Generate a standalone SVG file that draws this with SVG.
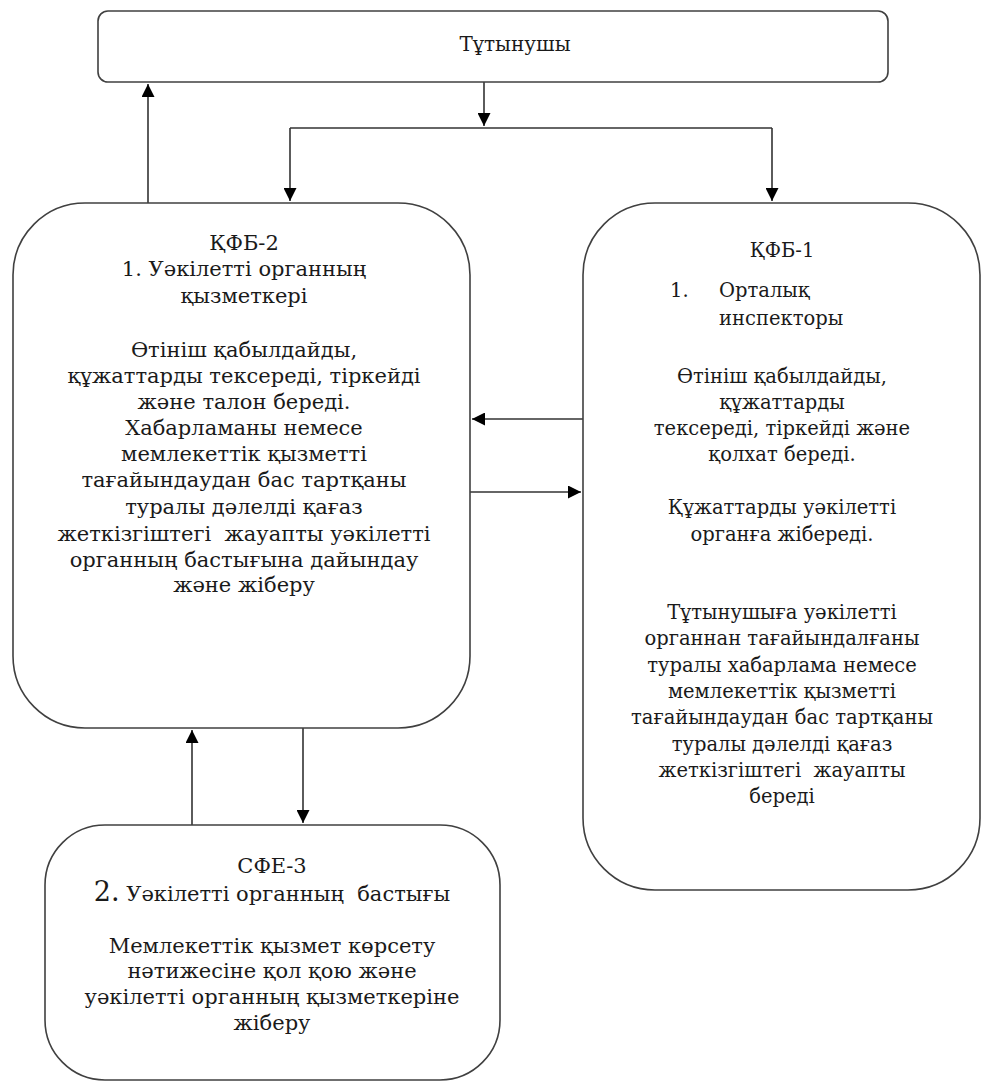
<svg xmlns="http://www.w3.org/2000/svg" width="983" height="1086" viewBox="0 0 983 1086">
<defs>
<marker id="ah" viewBox="0 0 12 12" refX="12" refY="6" markerWidth="13" markerHeight="13" markerUnits="userSpaceOnUse" orient="auto">
<path d="M0,0 L12,6 L0,12 Z" fill="#000"/>
</marker>
<style>
.box{fill:#fff;stroke:#404040;stroke-width:1.6}
.ln{fill:none;stroke:#333;stroke-width:1.6}
.t{font-family:"DejaVu Serif","Liberation Serif",serif;font-size:19.5px;fill:#1a1a1a;text-anchor:middle}
.b{font-size:21px}
.s{text-anchor:start}
</style>
</defs>
<rect width="983" height="1086" fill="#fff"/>
<g id="connectors">
<path class="ln" d="M148,203 V84" marker-end="url(#ah)"/>
<path class="ln" d="M484,82 V126" marker-end="url(#ah)"/>
<path class="ln" d="M290,128 H772"/>
<path class="ln" d="M290,128 V201" marker-end="url(#ah)"/>
<path class="ln" d="M772,128 V201" marker-end="url(#ah)"/>
<path class="ln" d="M583,419 H472" marker-end="url(#ah)"/>
<path class="ln" d="M470,492 H581" marker-end="url(#ah)"/>
<path class="ln" d="M192,825 V730" marker-end="url(#ah)"/>
<path class="ln" d="M303,728 V823" marker-end="url(#ah)"/>
</g>
<g id="consumer">
<rect class="box" x="98" y="11" width="790" height="71" rx="10"/>
<text class="t" x="515" y="51" style="font-size:20px">Тұтынушы</text>
</g>
<g id="kfb2">
<rect class="box" x="13" y="203" width="457" height="525" rx="72"/>
<text class="t b" x="244" y="250">ҚФБ-2</text>
<text class="t b" x="244" y="276">1. Уәкілетті органның</text>
<text class="t b" x="244" y="303">қызметкері</text>
<text class="t b" x="244" y="357">Өтініш қабылдайды,</text>
<text class="t b" x="244" y="383">құжаттарды тексереді, тіркейді</text>
<text class="t b" x="244" y="409">және талон береді.</text>
<text class="t b" x="244" y="435">Хабарламаны немесе</text>
<text class="t b" x="244" y="461">мемлекеттік қызметті</text>
<text class="t b" x="244" y="487">тағайындаудан бас тартқаны</text>
<text class="t b" x="244" y="514">туралы дәлелді қағаз</text>
<text class="t b" x="244" y="541">жеткізгіштегі&#160; жауапты уәкілетті</text>
<text class="t b" x="244" y="567">органның бастығына дайындау</text>
<text class="t b" x="244" y="592">және жіберу</text>
</g>
<g id="kfb1">
<rect class="box" x="583" y="203" width="397" height="687" rx="72"/>
<text class="t" x="782" y="257">ҚФБ-1</text>
<text class="t s" x="670" y="297">1.</text>
<text class="t s" x="719" y="297">Орталық</text>
<text class="t s" x="719" y="325">инспекторы</text>
<text class="t" x="782" y="383">Өтініш қабылдайды,</text>
<text class="t" x="782" y="409">құжаттарды</text>
<text class="t" x="782" y="435">тексереді, тіркейді және</text>
<text class="t" x="782" y="461">қолхат береді.</text>
<text class="t" x="782" y="514">Құжаттарды уәкілетті</text>
<text class="t" x="782" y="541">органға жібереді.</text>
<text class="t" x="782" y="619">Тұтынушыға уәкілетті</text>
<text class="t" x="782" y="645">органнан тағайындалғаны</text>
<text class="t" x="782" y="672">туралы хабарлама немесе</text>
<text class="t" x="782" y="698">мемлекеттік қызметті</text>
<text class="t" x="782" y="724">тағайындаудан бас тартқаны</text>
<text class="t" x="782" y="751">туралы дәлелді қағаз</text>
<text class="t" x="782" y="777">жеткізгіштегі&#160; жауапты</text>
<text class="t" x="782" y="803">береді</text>
</g>
<g id="sfe3">
<rect class="box" x="45" y="825" width="455" height="255" rx="60"/>
<text class="t b" x="272" y="873">СФЕ-3</text>
<text class="t b" x="272" y="901"><tspan style="font-size:27px">2.</tspan> Уәкілетті органның&#160; бастығы</text>
<text class="t b" x="272" y="953">Мемлекеттік қызмет көрсету</text>
<text class="t b" x="272" y="978">нәтижесіне қол қою және</text>
<text class="t b" x="272" y="1004">уәкілетті органның қызметкеріне</text>
<text class="t b" x="272" y="1030">жіберу</text>
</g>
</svg>
